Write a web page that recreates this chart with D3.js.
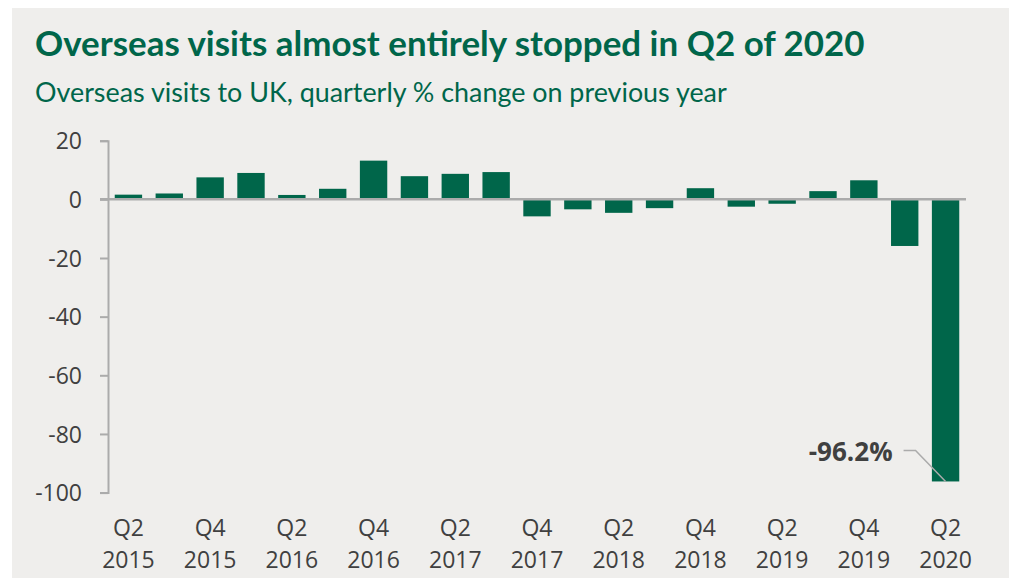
<!DOCTYPE html>
<html>
<head>
<meta charset="utf-8">
<script src="https://cdn.jsdelivr.net/npm/d3@7"></script>
<style>
  html, body { margin: 0; padding: 0; background: #ffffff; }
  svg { display: block; }
  .axis text { font-family: "Open Sans", sans-serif; fill: #404040; }
</style>
</head>
<body>
<svg id="chart" width="1011" height="578"></svg>
<script>
// Quarterly % change in overseas visits to the UK, year on year
const quarters = [
  "Q2 2015", "Q3 2015", "Q4 2015", "Q1 2016", "Q2 2016", "Q3 2016", "Q4 2016",
  "Q1 2017", "Q2 2017", "Q3 2017", "Q4 2017", "Q1 2018", "Q2 2018", "Q3 2018",
  "Q4 2018", "Q1 2019", "Q2 2019", "Q3 2019", "Q4 2019", "Q1 2020", "Q2 2020"
];
const changePct = [
  1.6, 2.0, 7.5, 9.0, 1.5, 3.6, 13.2,
  7.9, 8.7, 9.3, -5.8, -3.4, -4.6, -3.0,
  3.8, -2.5, -1.5, 2.8, 6.5, -15.9, -96.2
];
const yTicks = [20, 0, -20, -40, -60, -80, -100];
const labelledQuarters = quarters.filter((q, i) => i % 2 === 0);
const calloutQuarter = "Q2 2020";

const titleText = "Overseas visits almost entirely stopped in Q2 of 2020";
const subtitleText = "Overseas visits to UK, quarterly % change on previous year";

const green = "#00664a";
const axisGrey = "#ababab";

const svg = d3.select("#chart");

// panel background
svg.append("rect")
  .attr("x", 12).attr("y", 8)
  .attr("width", 997).attr("height", 570)
  .attr("fill", "#efeeec");

// headings
const title = svg.append("text")
  .attr("x", 35).attr("y", 56)
  .attr("font-family", "Lato, sans-serif")
  .attr("font-weight", 700)
  .attr("font-size", 30)
  .attr("fill", green)
  .text(titleText);

const subtitle = svg.append("text")
  .attr("x", 35).attr("y", 102)
  .attr("font-family", "Lato, sans-serif")
  .attr("font-size", 23)
  .attr("fill", green)
  .text(subtitleText);

// fit heading widths to the panel layout
function fitWidth(sel, target) {
  const w = sel.node().getComputedTextLength();
  const fs = +sel.attr("font-size");
  sel.attr("font-size", fs * target / w);
}
fitWidth(title, 830);
fitWidth(subtitle, 692);

// scales
const x = d3.scaleBand()
  .domain(quarters)
  .range([108, 966])
  .paddingInner(0.33)
  .paddingOuter(0.165);

const y = d3.scaleLinear()
  .domain([-100, 20])
  .range([492.6, 140.7]);

// y axis with bracketed ends
const yAxis = svg.append("g")
  .attr("class", "axis")
  .attr("transform", "translate(108,0)")
  .call(d3.axisLeft(y)
    .tickValues(yTicks)
    .tickSize(8)
    .tickSizeOuter(8)
    .tickPadding(18)
    .tickFormat(d3.format("d")));
yAxis.select(".domain").attr("stroke", axisGrey).attr("stroke-width", 2).attr("fill", "none");
yAxis.selectAll(".tick line").attr("stroke", axisGrey).attr("stroke-width", 2);
yAxis.selectAll(".tick text")
  .attr("font-size", 23)
  .attr("dy", "0.36em")
  .text(d => d3.format("d")(d).replace("−", "-"));

// bars
svg.append("g")
  .selectAll("rect")
  .data(quarters.map((q, i) => ({ q, v: changePct[i] })))
  .join("rect")
  .attr("x", d => x(d.q))
  .attr("width", x.bandwidth())
  .attr("y", d => d.v >= 0 ? y(d.v) : y(0))
  .attr("height", d => Math.abs(y(d.v) - y(0)))
  .attr("fill", green);

// zero line
svg.append("line")
  .attr("x1", 100).attr("x2", x.range()[1])
  .attr("y1", y(0)).attr("y2", y(0))
  .attr("stroke", axisGrey)
  .attr("stroke-width", 2.5);

// x axis: two-line quarter labels on every other bar
const xAxis = svg.append("g")
  .attr("class", "axis")
  .attr("transform", `translate(0,${y(-100)})`)
  .call(d3.axisBottom(x).tickValues(labelledQuarters).tickSize(0).tickPadding(0));
xAxis.select(".domain").remove();
xAxis.selectAll(".tick text").each(function(d) {
  const parts = d.split(" ");
  const t = d3.select(this).text(null).attr("font-size", 23).attr("y", 0).attr("dy", null);
  t.append("tspan").attr("x", 0).attr("y", 43).text(parts[0]);
  t.append("tspan").attr("x", 0).attr("y", 75).text(parts[1]);
});

// callout for the final quarter
const calloutIdx = quarters.indexOf(calloutQuarter);
const calloutVal = changePct[calloutIdx];
const cx = x(calloutQuarter) + x.bandwidth() / 2;
const cy = y(calloutVal);
svg.append("path")
  .attr("d", `M${cx},${cy}L${cx - 30},${cy - 31}H${cx - 42}`)
  .attr("fill", "none")
  .attr("stroke", axisGrey)
  .attr("stroke-width", 1.5);
svg.append("text")
  .attr("x", cx - 53)
  .attr("y", cy - 20)
  .attr("text-anchor", "end")
  .attr("font-family", "Open Sans, sans-serif")
  .attr("font-weight", 700)
  .attr("font-size", 26)
  .attr("fill", "#404040")
  .text(d3.format(".1f")(calloutVal).replace("−", "-") + "%");
</script>
</body>
</html>
